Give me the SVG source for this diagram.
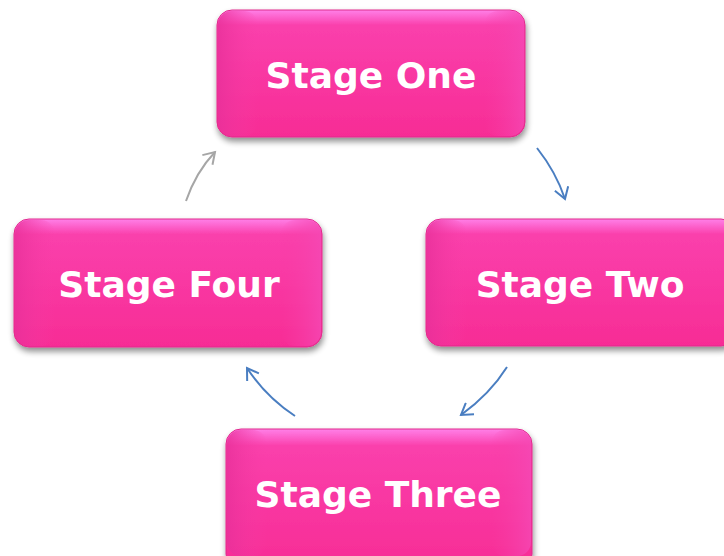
<svg xmlns="http://www.w3.org/2000/svg" width="724" height="556" viewBox="0 0 724 556">
<defs>
<linearGradient id="g" x1="0" y1="0" x2="0" y2="1">
<stop offset="0" stop-color="#FF80E8"/>
<stop offset="0.12" stop-color="#FA40AC"/>
<stop offset="1" stop-color="#F72C95"/>
</linearGradient>
<linearGradient id="lside" x1="0" y1="0" x2="1" y2="0">
<stop offset="0" stop-color="#E8309A" stop-opacity="0.8"/>
<stop offset="1" stop-color="#F73DA5" stop-opacity="0"/>
</linearGradient>
<linearGradient id="rside" x1="1" y1="0" x2="0" y2="0">
<stop offset="0" stop-color="#F548B4" stop-opacity="0.8"/>
<stop offset="1" stop-color="#F73DA5" stop-opacity="0"/>
</linearGradient>
<filter id="sh" x="-10%" y="-10%" width="120%" height="130%">
<feGaussianBlur in="SourceAlpha" stdDeviation="3"/>
<feOffset dx="1" dy="4"/>
<feComponentTransfer><feFuncA type="linear" slope="0.45"/></feComponentTransfer>
<feMerge><feMergeNode/><feMergeNode in="SourceGraphic"/></feMerge>
</filter>
<marker id="ab" markerWidth="16" markerHeight="16" refX="12" refY="8" orient="auto" markerUnits="userSpaceOnUse">
<path d="M1,1 L12,8 L1,15" fill="none" stroke="#4A7EC1" stroke-width="2"/>
</marker>
<marker id="ag" markerWidth="16" markerHeight="16" refX="12" refY="8" orient="auto" markerUnits="userSpaceOnUse">
<path d="M1,1 L12,8 L1,15" fill="none" stroke="#A6A6A6" stroke-width="2"/>
</marker>
</defs>
<style>
.box{fill:url(#g);stroke:#E02A8C;stroke-width:1;filter:url(#sh)}
.lbl{font-family:"DejaVu Sans","Liberation Sans",Arial,sans-serif;font-weight:bold;font-size:36px;fill:#FFFFFF;text-anchor:middle}
.c{fill:none;stroke-width:2}
</style>
<rect width="724" height="556" fill="#FFFFFF"/>
<g id="connectors">
<path class="c" stroke="#4A7EC1" d="M537,148 Q556,172 565,199" marker-end="url(#ab)"/>
<path class="c" stroke="#4A7EC1" d="M507,367 Q490,394 461,415" marker-end="url(#ab)"/>
<path class="c" stroke="#4A7EC1" d="M295,416 Q266,397 247,368" marker-end="url(#ab)"/>
<path class="c" stroke="#A6A6A6" d="M186,201 Q196,172 215,152" marker-end="url(#ag)"/>
</g>
<g id="stage-one">
<rect class="box" x="217" y="10" width="308" height="127" rx="15"/>
<rect x="218" y="11" width="40" height="125" rx="14" fill="url(#lside)"/>
<rect x="484" y="11" width="40" height="125" rx="14" fill="url(#rside)"/>
<text class="lbl" x="371" y="88">Stage One</text>
</g>
<g id="stage-two">
<rect class="box" x="426" y="219" width="310" height="127" rx="15"/>
<rect x="427" y="220" width="40" height="125" rx="14" fill="url(#lside)"/>
<text class="lbl" x="580" y="297">Stage Two</text>
</g>
<g id="stage-three">
<rect class="box" x="226" y="429" width="306" height="140" rx="15"/>
<rect x="227" y="430" width="40" height="126" rx="14" fill="url(#lside)"/>
<rect x="491" y="430" width="40" height="126" rx="14" fill="url(#rside)"/>
<text class="lbl" x="378" y="507">Stage Three</text>
</g>
<g id="stage-four">
<rect class="box" x="14" y="219" width="308" height="128" rx="15"/>
<rect x="15" y="220" width="40" height="126" rx="14" fill="url(#lside)"/>
<rect x="281" y="220" width="40" height="126" rx="14" fill="url(#rside)"/>
<text class="lbl" x="169" y="297">Stage Four</text>
</g>
</svg>
